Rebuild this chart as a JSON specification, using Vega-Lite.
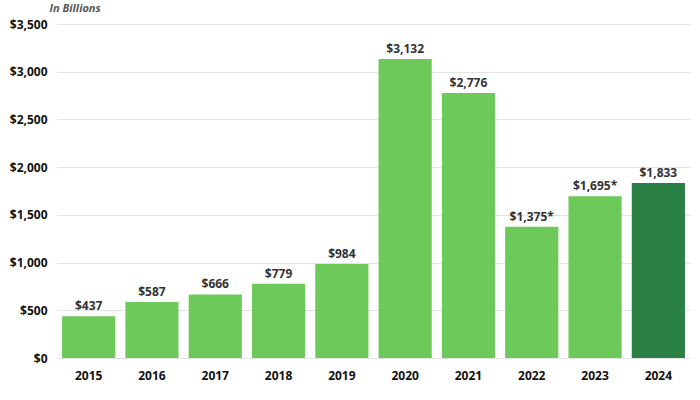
{
  "$schema": "https://vega.github.io/schema/vega-lite/v6.json",
  "width": 633,
  "height": 334,
  "autosize": {"type": "none"},
  "padding": {"left": 57, "top": 24, "right": 10, "bottom": 42},
  "background": "white",
  "config": {"view": {"stroke": null}, "font": "Open Sans"},
  "data": {"values": [
    {"year": "2015", "value": 437, "label": "$437", "kind": "a"},
    {"year": "2016", "value": 587, "label": "$587", "kind": "a"},
    {"year": "2017", "value": 666, "label": "$666", "kind": "a"},
    {"year": "2018", "value": 779, "label": "$779", "kind": "a"},
    {"year": "2019", "value": 984, "label": "$984", "kind": "a"},
    {"year": "2020", "value": 3132, "label": "$3,132", "kind": "a"},
    {"year": "2021", "value": 2776, "label": "$2,776", "kind": "a"},
    {"year": "2022", "value": 1375, "label": "$1,375*", "kind": "a"},
    {"year": "2023", "value": 1695, "label": "$1,695*", "kind": "a"},
    {"year": "2024", "value": 1833, "label": "$1,833", "kind": "b"}
  ]},
  "encoding": {
    "x": {"field": "year", "type": "ordinal",
      "scale": {"paddingInner": 0.16, "paddingOuter": 0.08},
      "axis": {"title": null, "labelAngle": 0, "domain": false, "ticks": false,
        "labelFontSize": 12, "labelFontWeight": "bold", "labelColor": "#111", "labelPadding": 12}},
    "y": {"field": "value", "type": "quantitative",
      "scale": {"domain": [0, 3500]},
      "axis": {"values": [0, 500, 1000, 1500, 2000, 2500, 3000, 3500],
        "labelExpr": "'$' + format(datum.value, ',')",
        "domain": false, "ticks": false, "gridColor": "#e3e3e3",
        "labelFontSize": 12, "labelFontWeight": "bold", "labelColor": "#111", "labelPadding": 10,
        "title": "In Billions", "titleAngle": 0, "titleAlign": "left", "titleBaseline": "middle",
        "titleX": -8, "titleY": -16, "titleFontStyle": "italic", "titleFontWeight": "bold",
        "titleFontSize": 11, "titleColor": "#555"}}
  },
  "layer": [
    {"mark": {"type": "bar"},
     "encoding": {"color": {"field": "kind", "type": "nominal",
       "scale": {"domain": ["a", "b"], "range": ["#6cc95a", "#2a7f44"]}, "legend": null}}},
    {"mark": {"type": "text", "dy": -10, "fontSize": 12, "fontWeight": "bold", "color": "#333"},
     "encoding": {"text": {"field": "label"}}}
  ]
}
